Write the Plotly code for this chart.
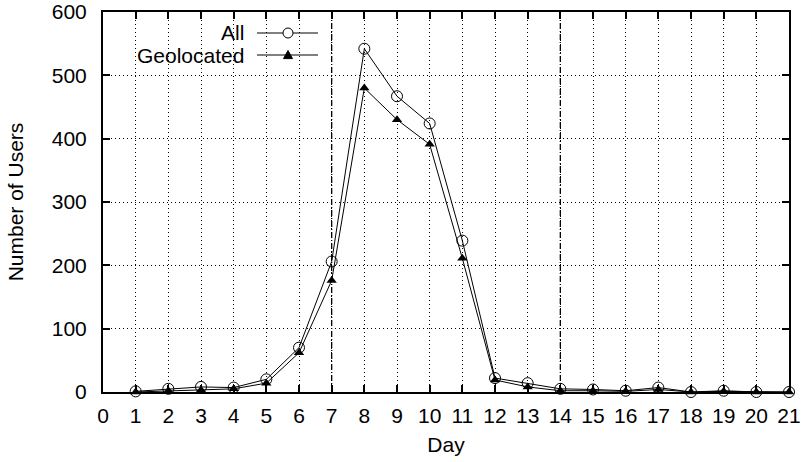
import plotly.graph_objects as go

days = list(range(1, 22))
all_users = [1, 5, 8, 7, 20, 70, 206, 542, 467, 424, 239, 22, 14, 5, 4, 2, 7, 0, 2, 0, 0]
geolocated = [0, 2, 3, 5, 14, 62, 176, 480, 430, 391, 211, 19, 8, 2, 2, 1, 4, 0, 1, 0, 0]
week_boundaries = [7, 14]
x_ticks = list(range(0, 22))
y_ticks = list(range(0, 601, 100))

FONT = "Liberation Sans, Arial, Helvetica, sans-serif"
FS = 21

fig = go.Figure()
fig.add_trace(go.Scatter(
    x=days, y=all_users, mode="lines+markers", name="All",
    line=dict(color="black", width=1),
    marker=dict(symbol="circle-open", size=11, color="black", line=dict(width=1)),
    cliponaxis=False, showlegend=False))
fig.add_trace(go.Scatter(
    x=days, y=geolocated, mode="lines+markers", name="Geolocated",
    line=dict(color="black", width=1),
    marker=dict(symbol="triangle-up", size=9, color="black"),
    cliponaxis=False, showlegend=False))

for wb in week_boundaries:
    fig.add_shape(type="line", xref="x", yref="paper", x0=wb, x1=wb, y0=0, y1=1,
                  line=dict(color="black", width=1.3, dash="6px,2px,1px,2px"), layer="below")

W, H = 805, 462
ml, mr, mt, mb = 103, 16, 12, 70
pw, ph = W - ml - mr, H - mt - mb
def px(xp): return (xp - ml) / pw
def py(yp): return 1 - (yp - mt) / ph

legend = [("All", 33, "circle"), ("Geolocated", 55, "triangle")]
for label, yy, sym in legend:
    fig.add_annotation(xref="paper", yref="paper", x=px(246), y=py(yy), text=label,
                       showarrow=False, xanchor="right", yanchor="middle",
                       font=dict(family=FONT, size=FS, color="black"))
    fig.add_shape(type="line", xref="paper", yref="paper", x0=px(257), x1=px(318),
                  y0=py(yy), y1=py(yy), line=dict(color="black", width=1))
    if sym == "circle":
        r = 5
        fig.add_shape(type="circle", xref="paper", yref="paper",
                      x0=px(288 - r), x1=px(288 + r), y0=py(yy - r), y1=py(yy + r),
                      line=dict(color="black", width=1), fillcolor="white")
    else:
        s = 4.5
        path = (f"M {px(288 - s)} {py(yy + s * 0.8)} L {px(288 + s)} {py(yy + s * 0.8)} "
                f"L {px(288)} {py(yy - s)} Z")
        fig.add_shape(type="path", xref="paper", yref="paper", path=path,
                      line=dict(color="black", width=1), fillcolor="black")

axis_common = dict(
    showline=True, linecolor="black", linewidth=2, mirror="ticks",
    ticks="inside", ticklen=7, tickwidth=1.5, tickcolor="black",
    showgrid=True, gridcolor="black", gridwidth=1, griddash="1px,3px",
    zeroline=False, tickfont=dict(family=FONT, size=FS, color="black"),
    automargin=False, ticklabeloverflow="allow",
)
fig.update_xaxes(range=[0, 21], tickvals=x_ticks, ticktext=[str(t) for t in x_ticks],
                 ticklabelstandoff=4,
                 title=dict(text="Day", font=dict(family=FONT, size=FS, color="black"), standoff=11),
                 **axis_common)
fig.update_yaxes(range=[0, 600], tickvals=y_ticks, ticklabelstandoff=10,
                 title=dict(text="Number of Users", font=dict(family=FONT, size=FS, color="black"), standoff=22),
                 **axis_common)

fig.update_layout(width=W, height=H, margin=dict(l=ml, r=mr, t=mt, b=mb),
                  plot_bgcolor="white", paper_bgcolor="white",
                  font=dict(family=FONT, size=FS, color="black"))
fig.write_html("out.html", config={"displayModeBar": False},
               post_script="document.body.style.margin='0';document.body.style.overflow='hidden';")
